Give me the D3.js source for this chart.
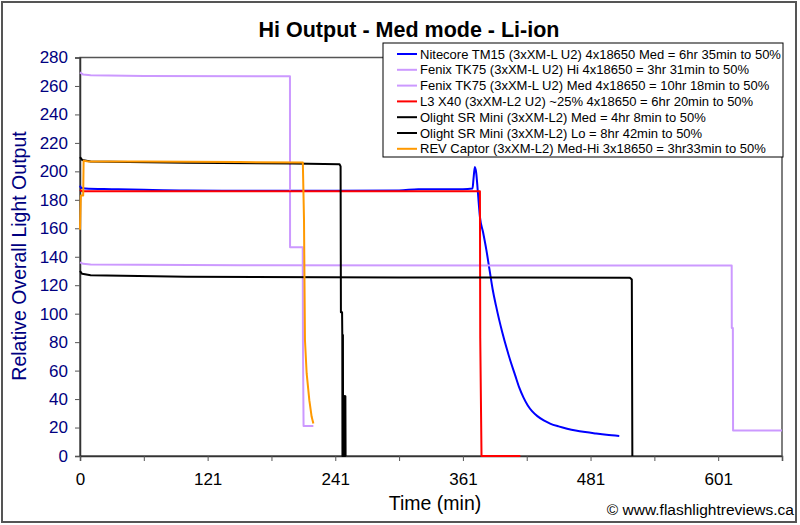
<!DOCTYPE html>
<html>
<head>
<meta charset="utf-8">
<script src="https://cdn.jsdelivr.net/npm/d3@7"></script>
<style>
  html, body { margin: 0; padding: 0; background: #fff; }
  svg { display: block; font-family: Arial, "Liberation Sans", sans-serif; }
</style>
</head>
<body>
<svg id="chart" width="800" height="525"></svg>
<script>
// ---- data (time in minutes, relative output) ----
const chartTitle = "Hi Output - Med mode - Li-ion";
const xTitle = "Time (min)";
const yTitle = "Relative Overall Light Output";
const credit = "\u00A9 www.flashlightreviews.ca";

const xTickValues = [0, 120, 240, 360, 480, 600];
const xTickLabels = ["0", "121", "241", "361", "481", "601"];
const xMinorTicks = [0, 60, 120, 180, 240, 300, 360, 420, 480, 540, 600, 660];
const yTickValues = [0, 20, 40, 60, 80, 100, 120, 140, 160, 180, 200, 220, 240, 260, 280];

const seriesNames = [
  "Nitecore TM15 (3xXM-L U2) 4x18650 Med = 6hr 35min to 50%",
  "Fenix TK75 (3xXM-L U2) Hi 4x18650 = 3hr 31min to 50%",
  "Fenix TK75 (3xXM-L U2) Med 4x18650 = 10hr 18min to 50%",
  "L3 X40 (3xXM-L2 U2) ~25% 4x18650 = 6hr 20min to 50%",
  "Olight SR Mini (3xXM-L2) Med = 4hr 8min to 50%",
  "Olight SR Mini (3xXM-L2) Lo = 8hr 42min to 50%",
  "REV Captor (3xXM-L2) Med-Hi 3x18650 = 3hr33min to 50%"
];
const seriesColors = ["#0000ff", "#cc99ff", "#cc99ff", "#ff0000", "#000000", "#000000", "#ff9900"];

const nitecoreTM15 = [[0,190],[1,188.5],[5,188],[30,187.5],[60,187],[100,186.5],[200,186.3],[300,186.5],[318,187.5],[360,187.5],[369,188],[370,195],[371.2,203],[372.5,199],[374,186],[376,168],[379,157],[382,145],[385,131],[388,117],[391,106],[394,96],[397,87],[401,76],[405,66],[409,57],[413,48],[417,41],[421,35.5],[425,31.5],[430,28],[436,25],[442,22.8],[450,20.8],[458,19.2],[466,17.9],[475,16.8],[485,15.8],[495,14.9],[507,14.1]];
const fenixHi = [[0,269.5],[3,268],[10,267.5],[60,267],[197.4,266.8],[197.5,146.7],[209.4,146.7],[209.6,80],[210.2,21],[219.4,21]];
const fenixMed = [[0,136],[3,135],[10,134.5],[150,134],[612.7,133.8],[612.8,90],[613.8,90],[614,18],[660,18]];
const l3X40 = [[0,187],[2,186],[376,186],[376.3,83],[377.5,0],[414,0]];
const olightMed = [[0,210],[2,208],[10,207],[100,206],[200,205.5],[244,205],[245,203.5],[245.3,101],[246.4,101],[246.6,85],[246.75,0],[246.9,85],[247.05,0],[247.2,85],[247.35,0],[247.5,42],[247.7,0],[247.9,42],[248.1,0],[248.3,42],[248.5,0],[248.7,42],[248.9,0],[249.1,42],[249.3,0],[249.5,42],[249.7,0],[249.8,0]];
const olightLo = [[0,130],[2,128],[10,127],[100,126],[300,125.5],[517,125.3],[518.8,124],[519.3,0]];
const revCaptor = [[0,159],[0.8,183],[3,183],[3.4,207.5],[8,207],[60,207],[150,206.5],[209.5,206.3],[210.6,166],[211.5,81.5],[213.1,58],[215.6,39.2],[217.8,27.5],[219.4,22.8]];

const seriesData = [nitecoreTM15, fenixHi, fenixMed, l3X40, olightMed, olightLo, revCaptor];

// ---- layout ----
const svg = d3.select("#chart");
const plot = { left: 80, right: 782, top: 57.5, bottom: 456 };

const x = d3.scaleLinear().domain([0, 660]).range([plot.left, plot.right]);
const y = d3.scaleLinear().domain([0, 280]).range([plot.bottom, plot.top]);

// outer frame
svg.append("rect").attr("x", 2).attr("y", 2).attr("width", 794).attr("height", 520)
  .attr("fill", "#fff").attr("stroke", "#555").attr("stroke-width", 2);

// title
svg.append("text").attr("x", 409).attr("y", 37).attr("text-anchor", "middle")
  .attr("font-size", 21.5).attr("font-weight", "bold").attr("fill", "#000").text(chartTitle);

// plot frame
svg.append("rect").attr("x", plot.left).attr("y", plot.top)
  .attr("width", plot.right - plot.left).attr("height", plot.bottom - plot.top)
  .attr("fill", "#fff").attr("stroke", "#555").attr("stroke-width", 1.5);

// y axis
const yAxis = d3.axisLeft(y).tickValues(yTickValues).tickSize(5).tickPadding(7).tickFormat(d3.format("d"));
const gy = svg.append("g").attr("transform", `translate(${plot.left},0)`).call(yAxis);
gy.select(".domain").attr("stroke", "#333").attr("stroke-width", 1.5);
gy.selectAll(".tick line").attr("stroke", "#555");
gy.selectAll(".tick text").attr("font-size", 17).attr("fill", "#000080")
  .attr("font-family", "Arial, 'Liberation Sans', sans-serif");

// x axis minor/major tick marks
const xAxisTicks = d3.axisBottom(x).tickValues(xMinorTicks).tickSize(5).tickFormat("");
const gxt = svg.append("g").attr("transform", `translate(0,${plot.bottom})`).call(xAxisTicks);
gxt.select(".domain").attr("stroke", "#333").attr("stroke-width", 1.5);
gxt.selectAll(".tick line").attr("stroke", "#555");

const xAxis = d3.axisBottom(x).tickValues(xTickValues).tickSize(0).tickPadding(17)
  .tickFormat((d, i) => xTickLabels[i]);
const gx = svg.append("g").attr("transform", `translate(0,${plot.bottom})`).call(xAxis);
gx.select(".domain").remove();
gx.selectAll(".tick text").attr("font-size", 17).attr("fill", "#000")
  .attr("font-family", "Arial, 'Liberation Sans', sans-serif");

// axis titles
svg.append("text").attr("x", 435).attr("y", 510).attr("text-anchor", "middle")
  .attr("font-size", 19.5).attr("fill", "#000").text(xTitle);
svg.append("text").attr("transform", "translate(26,256) rotate(-90)").attr("text-anchor", "middle")
  .attr("font-size", 19.5).attr("fill", "#000080").text(yTitle);

// credit
svg.append("text").attr("x", 794).attr("y", 515).attr("text-anchor", "end")
  .attr("font-size", 15.5).attr("fill", "#000").text(credit);

// series lines
const line = d3.line().x(d => x(d[0])).y(d => y(d[1]));
const smoothLine = d3.line().x(d => x(d[0])).y(d => y(d[1])).curve(d3.curveMonotoneX);
const gLines = svg.append("g");
seriesData.forEach((s, i) => {
  gLines.append("path").datum(s).attr("d", i === 0 ? smoothLine : line)
    .attr("fill", "none").attr("stroke", seriesColors[i])
    .attr("stroke-width", 2).attr("stroke-linejoin", "round");
});

// legend
const lg = svg.append("g");
lg.append("rect").attr("x", 383).attr("y", 43).attr("width", 400).attr("height", 114)
  .attr("fill", "#fff").attr("stroke", "#000").attr("stroke-width", 1);
seriesNames.forEach((n, i) => {
  const yy = 54 + i * 15.8;
  lg.append("line").attr("x1", 397).attr("x2", 417).attr("y1", yy).attr("y2", yy)
    .attr("stroke", seriesColors[i]).attr("stroke-width", 2);
  lg.append("text").attr("x", 420).attr("y", yy + 4.6).attr("font-size", 13)
    .attr("fill", "#000").text(n);
});
</script>
</body>
</html>
